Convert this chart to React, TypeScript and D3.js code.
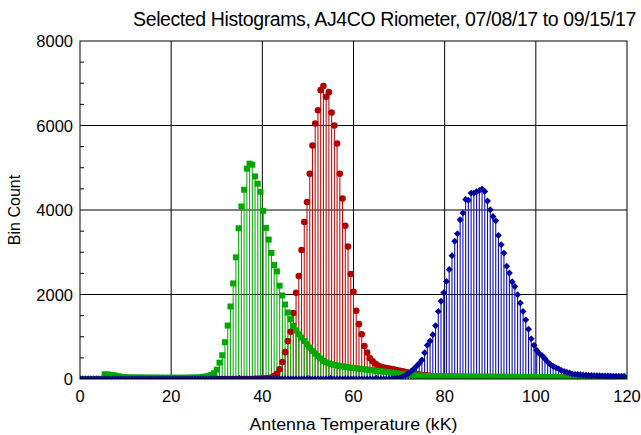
import React from "react";
import * as d3 from "d3";

// ---- data ----
const binWidth = 0.6; // kK per histogram bin
const binCount = 200;

const redStartBin = 64;
const redCounts = [
  3, 5, 8, 12, 18, 24, 35, 70, 125, 230, 400, 636, 897, 1120, 1560, 2042, 2438, 3055, 3715, 4190,
  4860, 5524, 6046, 6362, 6837, 6932, 6678, 6789, 6307, 5999, 5574, 4860, 4273, 3625, 3134, 2485,
  2065, 1614, 1298, 1061, 783, 624, 490, 420, 360, 320, 290, 272, 258, 246, 235, 222, 208, 195,
  180, 165, 150, 135, 122, 112, 104, 96, 88, 80, 72, 64, 56, 48, 40, 34, 28, 22, 17, 12, 8, 5,
];

const greenStartBin = 9;
const greenCounts = [
  110, 108, 100, 92, 80, 66, 52, 42, 38, 36, 35, 34, 34, 33, 33, 32, 32, 32, 31, 31, 30, 30, 30,
  30, 30, 30, 30, 30, 30, 30, 31, 32, 33, 35, 35, 40, 50, 60, 75, 95,
  135, 221, 387, 563, 871, 1265, 1716, 2262, 2880, 3568, 4083, 4480, 4978, 5097, 5073, 4795, 4622,
  4432, 3981, 3577, 3300, 2984, 2699, 2547, 2208, 1977, 1764, 1574, 1417, 1258, 1150,
  1060, 980, 900, 824, 745, 665, 600, 546, 485, 427, 395, 370, 349, 335, 320, 309, 300, 290, 278,
  268, 260, 252, 245, 238, 230, 222, 214, 206, 198, 190, 182, 174, 166, 158, 150,
  140, 130, 120, 112, 105, 98, 92, 86, 82, 78, 75, 72, 70, 68, 66, 65, 64, 63, 62, 61,
  60, 60, 59, 59, 58, 58, 57, 57, 56, 56, 55, 55, 55, 54, 54, 54, 53, 53, 53, 52,
  52, 52, 51, 51, 51, 50, 50, 50, 50, 49, 49, 49, 48, 48, 48, 48, 47, 47, 47, 47,
  46, 46, 46, 46, 45, 45, 45, 45, 44, 44, 44, 44, 43, 43, 43, 43, 42, 42, 42, 42,
  41, 41, 41, 40,
];

const blueStartBin = 114;
const blueCounts = [
  5, 10, 18, 30, 55, 85, 125, 175, 235, 300, 365, 450, 620, 800, 900, 1050, 1260, 1600, 1840, 2040,
  2310, 2590, 2920, 3260, 3440, 3770, 3930, 4250, 4230, 4400, 4400, 4430, 4460, 4500, 4440, 4215,
  4005, 3845, 3745, 3400, 3180, 2980, 2670, 2510, 2300, 2190, 1995, 1800, 1600, 1400, 1180, 950,
  800, 680, 600, 550, 480, 400, 340, 300, 270, 240, 200, 180, 160, 140, 120, 110, 105, 100, 95, 90,
  85, 82, 80, 78, 76, 74, 72, 70, 70, 68, 68, 66, 66, 65,
];

const xTicks = [0, 20, 40, 60, 80, 100, 120];
const yTicks = [0, 2000, 4000, 6000, 8000];
const titleText = "Selected Histograms, AJ4CO Riometer, 07/08/17 to 09/15/17";
const xLabel = "Antenna Temperature (kK)";
const yLabel = "Bin Count";

// ---- layout ----
const W = 641;
const H = 435;
const left = 80;
const right = 627;
const top = 41;
const bottom = 379;
const font = "'Liberation Sans', Arial, Helvetica, sans-serif";

type Pt = { x: number; y: number };
function expand(start: number, counts: number[]): Pt[] {
  const out: Pt[] = [];
  for (let i = 0; i < binCount; i++) {
    const j = i - start;
    const c = j >= 0 && j < counts.length ? counts[j] : 0;
    out.push({ x: i * binWidth, y: c });
  }
  return out;
}

const series = [
  { key: "red", data: expand(redStartBin, redCounts), stem: "#c01010", fill: "#b00000", shape: "circle" },
  { key: "green", data: expand(greenStartBin, greenCounts), stem: "#10b010", fill: "#00a800", shape: "square" },
  { key: "blue", data: expand(blueStartBin, blueCounts), stem: "#1010b8", fill: "#0000a0", shape: "diamond" },
];

export default function App() {
  const x = d3.scaleLinear().domain([0, 120]).range([left, right]);
  const y = d3.scaleLinear().domain([0, 8000]).range([bottom, top]);

  const circle = d3.symbol().type(d3.symbolCircle).size(34)()!;
  const square = d3.symbol().type(d3.symbolSquare).size(36)()!;
  const diamond = d3.symbol().type(d3.symbolSquare).size(24)()!;
  const pathFor = (s: string) => (s === "circle" ? circle : s === "square" ? square : diamond);

  const minorX = d3.range(0, 121, 5).filter((v) => v % 20 !== 0);
  const minorY = d3.range(0, 8001, 500).filter((v) => v % 2000 !== 0);

  return (
    <svg width={W} height={H} style={{ position: "absolute", left: 0, top: 0, background: "#fff" }}>
      <defs>
        <clipPath id="plotclip">
          <rect x={left} y={top} width={right - left} height={bottom - top} />
        </clipPath>
      </defs>
      <rect x={0} y={0} width={W} height={H} fill="#fff" />
      {/* grid */}
      {xTicks.slice(1, -1).map((t) => (
        <line key={"gx" + t} x1={x(t)} x2={x(t)} y1={top} y2={bottom} stroke="#000" strokeWidth={1} />
      ))}
      {yTicks.slice(1, -1).map((t) => (
        <line key={"gy" + t} x1={left} x2={right} y1={y(t)} y2={y(t)} stroke="#000" strokeWidth={1} />
      ))}
      {/* minor ticks */}
      {minorX.map((t) => (
        <line key={"mx" + t} x1={x(t)} x2={x(t)} y1={bottom} y2={bottom - 4} stroke="#000" strokeWidth={1} />
      ))}
      {minorY.map((t) => (
        <line key={"my" + t} x1={left} x2={left + 4} y1={y(t)} y2={y(t)} stroke="#000" strokeWidth={1} />
      ))}
      <g clipPath="url(#plotclip)">
        {series.map((s) => (
          <g key={"st" + s.key}>
            {s.data
              .filter((d) => d.y > 0)
              .map((d, i) => (
                <line key={i} x1={x(d.x)} x2={x(d.x)} y1={y(0)} y2={y(d.y)} stroke={s.stem} strokeWidth={1.1} />
              ))}
          </g>
        ))}
        {series.map((s) => (
          <g key={"mk" + s.key}>
            {s.data.map((d, i) => (
              <path
                key={i}
                d={pathFor(s.shape)}
                transform={`translate(${x(d.x)},${y(d.y)})${s.shape === "diamond" ? " rotate(45)" : ""}`}
                fill={s.fill}
              />
            ))}
          </g>
        ))}
      </g>
      {/* frame */}
      <rect x={left} y={top} width={right - left} height={bottom - top} fill="none" stroke="#000" strokeWidth={1} />
      {/* tick labels */}
      {xTicks.map((t) => (
        <text key={"xl" + t} x={x(t)} y={402} textAnchor="middle" fontFamily={font} fontSize={16.5} fill="#000">
          {t}
        </text>
      ))}
      {yTicks.map((t) => (
        <text key={"yl" + t} x={73} y={y(t) + 6} textAnchor="end" fontFamily={font} fontSize={16.5} fill="#000">
          {t}
        </text>
      ))}
      <text x={636} y={26} textAnchor="end" fontFamily={font} fontSize={19.5} letterSpacing={-0.4} fill="#000">
        {titleText}
      </text>
      <text
        x={(left + right) / 2}
        y={430}
        textAnchor="middle"
        fontFamily={font}
        fontSize={16}
        fill="#000"
        textLength={208}
        lengthAdjust="spacingAndGlyphs"
      >
        {xLabel}
      </text>
      <text
        transform={`translate(20,${(top + bottom) / 2}) rotate(-90)`}
        textAnchor="middle"
        fontFamily={font}
        fontSize={16}
        fill="#000"
      >
        {yLabel}
      </text>
    </svg>
  );
}
